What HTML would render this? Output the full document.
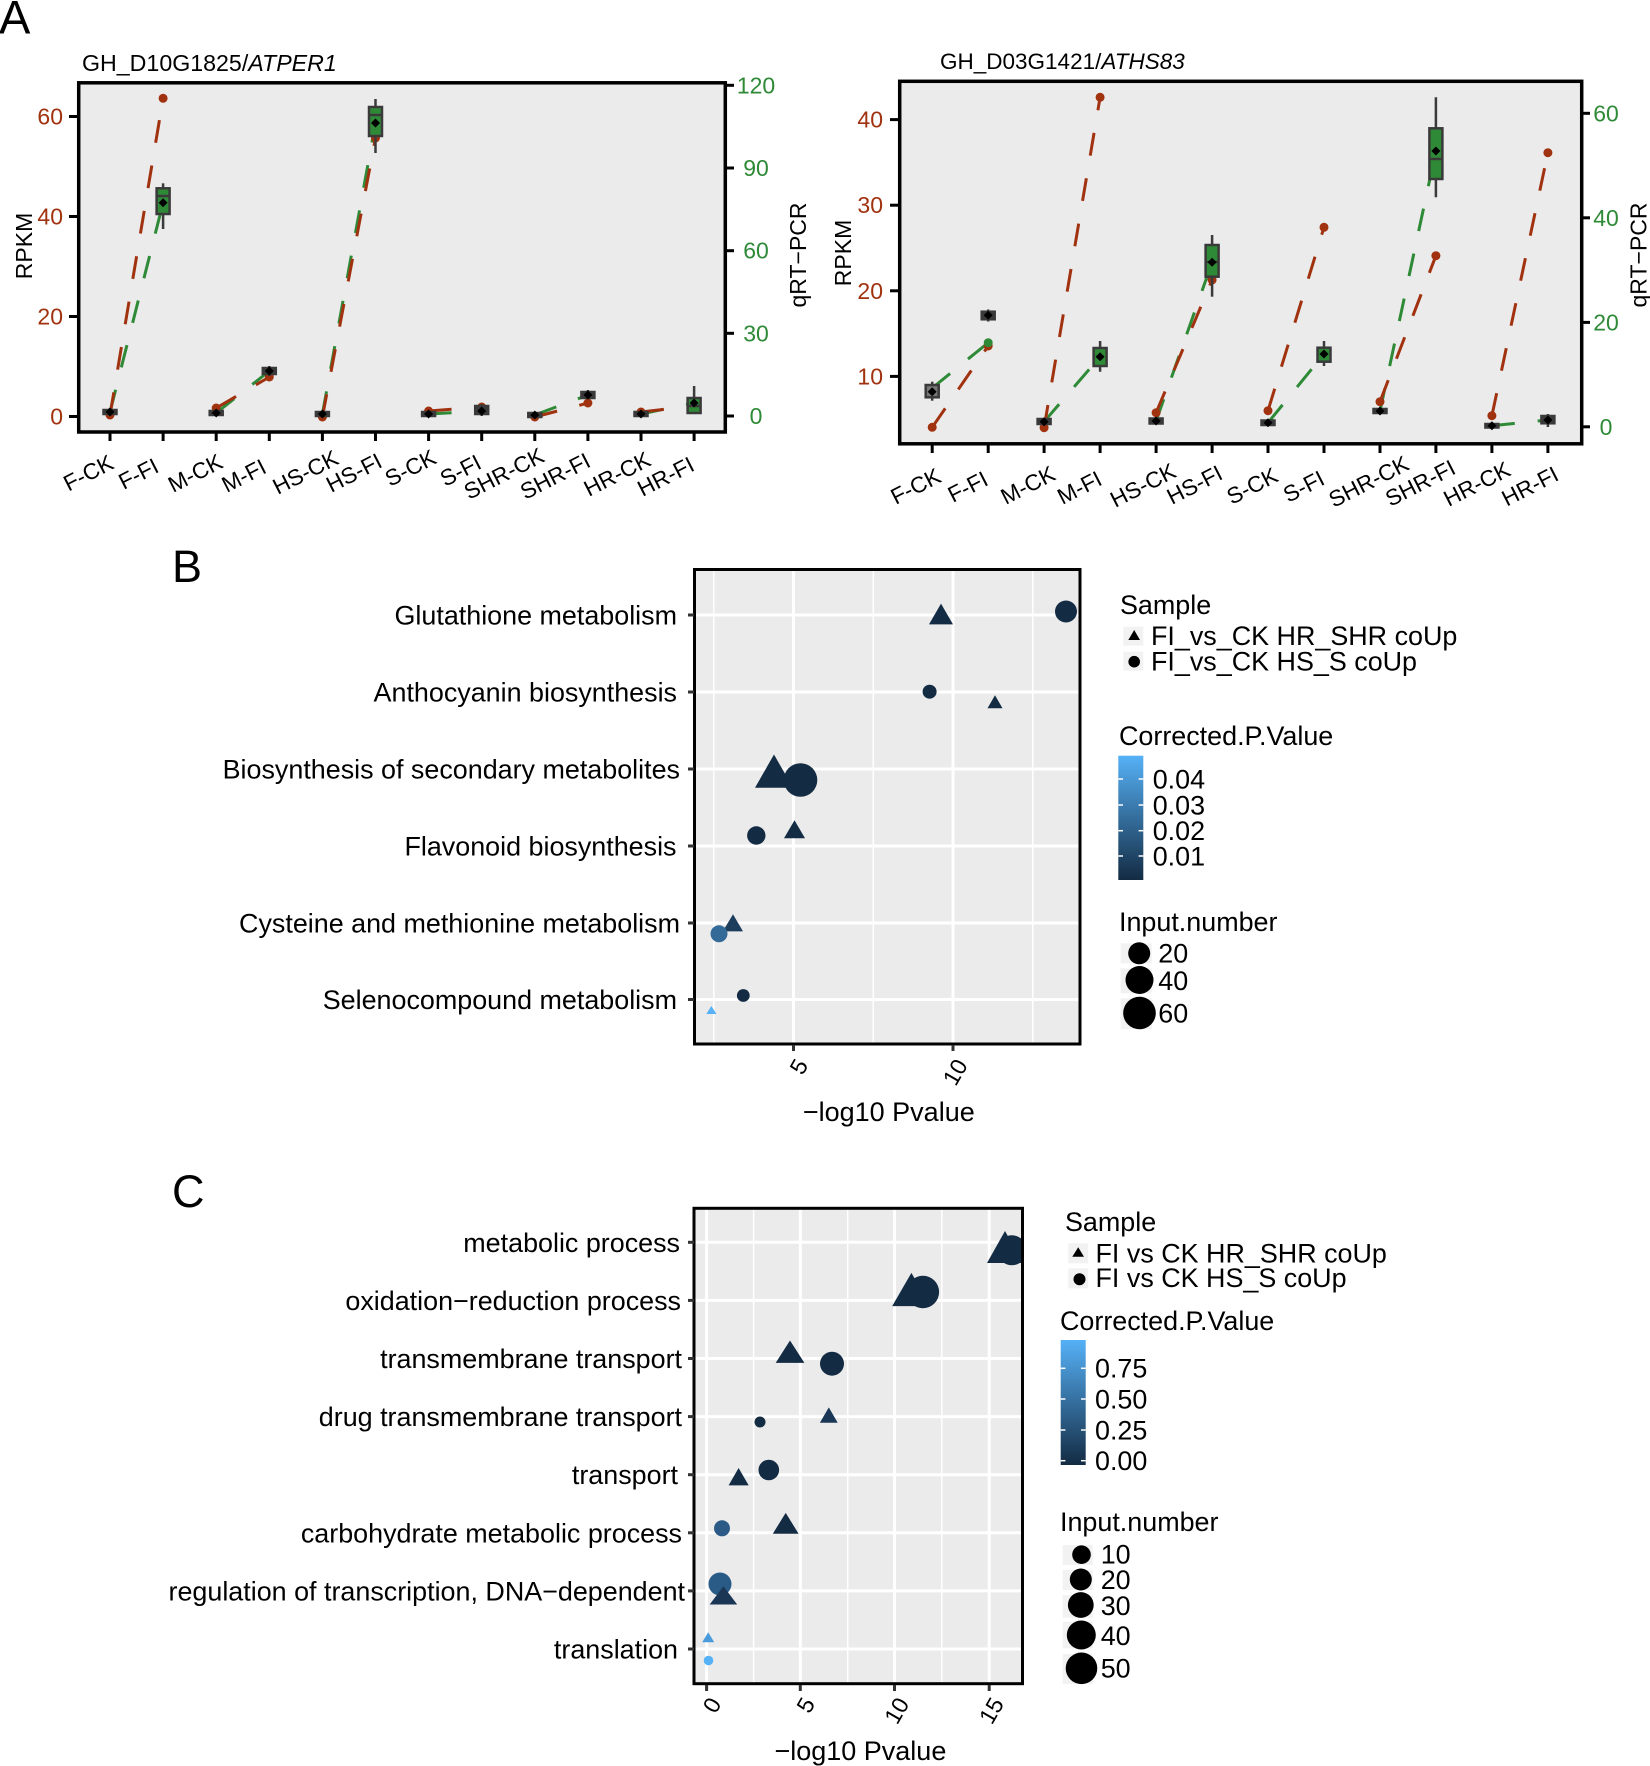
<!DOCTYPE html>
<html><head><meta charset="utf-8"><style>html,body{margin:0;padding:0;background:#fff}svg{display:block}</style></head>
<body>
<svg width="1650" height="1766" viewBox="0 0 1650 1766" xmlns="http://www.w3.org/2000/svg" font-family="'Liberation Sans', Arial, sans-serif">
<defs>
<linearGradient id="gB" x1="0" y1="0" x2="0" y2="1"><stop offset="0" stop-color="#56B1F7"/><stop offset="1" stop-color="#132B43"/></linearGradient>
<linearGradient id="gC" x1="0" y1="0" x2="0" y2="1"><stop offset="0" stop-color="#56B1F7"/><stop offset="1" stop-color="#132B43"/></linearGradient>
<clipPath id="cpB"><rect x="694.5" y="569.5" width="385.5" height="474.5"/></clipPath>
<clipPath id="cpC"><rect x="694" y="1208.3" width="328.5" height="475.4"/></clipPath>
</defs>
<rect width="1650" height="1766" fill="#fff"/>

<!-- ================= PANEL A ================= -->
<text x="-1" y="33.5" font-size="47">A</text>

<!-- Left plot -->
<text x="82" y="71" font-size="23.2">GH_D10G1825/<tspan font-style="italic">ATPER1</tspan></text>
<rect x="78.7" y="82.8" width="646.6" height="349.2" fill="#EBEBEB"/>
<g fill="none" stroke-width="3" stroke-dasharray="23 23">
<g stroke="#2F8A37">
<path d="M110,412 L163.1,202.7"/><path d="M216.2,413 L269.3,371"/><path d="M322.4,414 L375.5,123"/>
<path d="M428.6,414 L481.7,411"/><path d="M534.8,415 L587.9,395"/><path d="M641,414 L694.1,403"/>
</g>
<g stroke="#A1320F">
<path d="M110,415 L163.1,98.3"/><path d="M216.2,408 L269.3,377"/><path d="M322.4,417 L375.5,138"/>
<path d="M428.6,411 L481.7,407"/><path d="M534.8,417 L587.9,403"/><path d="M641,412 L694.1,406"/>
</g>
</g>
<g fill="#A1320F">
<circle cx="110" cy="415" r="4.5"/><circle cx="163.1" cy="98.3" r="4.5"/><circle cx="216.2" cy="408" r="4.5"/><circle cx="269.3" cy="377" r="4.5"/>
<circle cx="322.4" cy="417" r="4.5"/><circle cx="375.5" cy="138" r="4.5"/><circle cx="428.6" cy="411" r="4.5"/><circle cx="481.7" cy="407" r="4.5"/>
<circle cx="534.8" cy="417" r="4.5"/><circle cx="587.9" cy="403" r="4.5"/><circle cx="641" cy="412" r="4.5"/><circle cx="694.1" cy="406" r="4.5"/>
</g>
<g stroke="#3A3A3A" stroke-width="2.5">
<line x1="110" y1="408" x2="110" y2="416"/><rect x="103.5" y="410" width="13" height="4" fill="#3A3A3A"/>
<line x1="163.1" y1="183.3" x2="163.1" y2="229"/><rect x="156.6" y="188.3" width="13" height="25.7" fill="#2F8A37"/><line x1="156.6" y1="196" x2="169.6" y2="196"/>
<rect x="209.7" y="411" width="13" height="4" fill="#3A3A3A"/>
<line x1="269.3" y1="366" x2="269.3" y2="376"/><rect x="262.8" y="368" width="13" height="6" fill="#3A3A3A"/>
<rect x="315.9" y="412" width="13" height="4" fill="#3A3A3A"/>
<line x1="375.5" y1="99" x2="375.5" y2="153"/><rect x="369" y="107" width="13" height="29" fill="#2F8A37"/><line x1="369" y1="115" x2="382" y2="115"/>
<rect x="422.1" y="412" width="13" height="4" fill="#3A3A3A"/>
<line x1="481.7" y1="404" x2="481.7" y2="416"/><rect x="475.2" y="406" width="13" height="8" fill="#3A3A3A"/>
<rect x="528.3" y="413" width="13" height="4" fill="#3A3A3A"/>
<line x1="587.9" y1="390" x2="587.9" y2="399"/><rect x="581.4" y="392" width="13" height="6" fill="#3A3A3A"/>
<rect x="634.5" y="412" width="13" height="4" fill="#3A3A3A"/>
<line x1="694.1" y1="386" x2="694.1" y2="413"/><rect x="687.6" y="398" width="13" height="15" fill="#2F8A37"/><line x1="687.6" y1="406" x2="700.6" y2="406"/>
</g>
<g fill="#000">
<polygon points="110,407.5 114.5,412 110,416.5 105.5,412"/>
<polygon points="163.1,198.2 167.6,202.7 163.1,207.2 158.6,202.7"/>
<polygon points="216.2,408.5 220.7,413 216.2,417.5 211.7,413"/>
<polygon points="269.3,366.5 273.8,371 269.3,375.5 264.8,371"/>
<polygon points="322.4,409.5 326.9,414 322.4,418.5 317.9,414"/>
<polygon points="375.5,118.5 380,123 375.5,127.5 371,123"/>
<polygon points="428.6,409.5 433.1,414 428.6,418.5 424.1,414"/>
<polygon points="481.7,406.5 486.2,411 481.7,415.5 477.2,411"/>
<polygon points="534.8,410.5 539.3,415 534.8,419.5 530.3,415"/>
<polygon points="587.9,390.5 592.4,395 587.9,399.5 583.4,395"/>
<polygon points="641,409.5 645.5,414 641,418.5 636.5,414"/>
<polygon points="694.1,398.5 698.6,403 694.1,407.5 689.6,403"/>
</g>
<rect x="78.7" y="82.8" width="646.6" height="349.2" fill="none" stroke="#000" stroke-width="3.5"/>
<g stroke="#000" stroke-width="3">
<line x1="69" y1="416.5" x2="78" y2="416.5"/><line x1="69" y1="316.5" x2="78" y2="316.5"/><line x1="69" y1="216.5" x2="78" y2="216.5"/><line x1="69" y1="116.5" x2="78" y2="116.5"/>
<line x1="726" y1="416" x2="734" y2="416"/><line x1="726" y1="333.3" x2="734" y2="333.3"/><line x1="726" y1="250.7" x2="734" y2="250.7"/><line x1="726" y1="168" x2="734" y2="168"/><line x1="726" y1="85.3" x2="734" y2="85.3"/>
<line x1="110" y1="433" x2="110" y2="441"/><line x1="163.1" y1="433" x2="163.1" y2="441"/><line x1="216.2" y1="433" x2="216.2" y2="441"/><line x1="269.3" y1="433" x2="269.3" y2="441"/>
<line x1="322.4" y1="433" x2="322.4" y2="441"/><line x1="375.5" y1="433" x2="375.5" y2="441"/><line x1="428.6" y1="433" x2="428.6" y2="441"/><line x1="481.7" y1="433" x2="481.7" y2="441"/>
<line x1="534.8" y1="433" x2="534.8" y2="441"/><line x1="587.9" y1="433" x2="587.9" y2="441"/><line x1="641" y1="433" x2="641" y2="441"/><line x1="694.1" y1="433" x2="694.1" y2="441"/>
</g>
<g font-size="23" fill="#A1320F" text-anchor="end">
<text x="63" y="424.5">0</text><text x="63" y="324.5">20</text><text x="63" y="224.5">40</text><text x="63" y="124.5">60</text>
</g>
<g font-size="23" fill="#2F8A37" text-anchor="middle">
<text x="756" y="424">0</text><text x="756" y="341.3">30</text><text x="756" y="258.7">60</text><text x="756" y="176">90</text><text x="756" y="93.3">120</text>
</g>
<g font-size="22.5">
<text transform="translate(68.5,491.7) rotate(-27)">F-CK</text>
<text transform="translate(123.6,490) rotate(-27)">F-FI</text>
<text transform="translate(173.1,493) rotate(-27)">M-CK</text>
<text transform="translate(226.7,493) rotate(-27)">M-FI</text>
<text transform="translate(277.7,495) rotate(-27)">HS-CK</text>
<text transform="translate(331.3,493) rotate(-27)">HS-FI</text>
<text transform="translate(390,487) rotate(-27)">S-CK</text>
<text transform="translate(445.1,487) rotate(-27)">S-FI</text>
<text transform="translate(469,500) rotate(-27)">SHR-CK</text>
<text transform="translate(525.2,500) rotate(-27)">SHR-FI</text>
<text transform="translate(588.9,497) rotate(-27)">HR-CK</text>
<text transform="translate(642.5,497) rotate(-27)">HR-FI</text>
</g>
<text transform="translate(32,246) rotate(-90)" text-anchor="middle" font-size="23">RPKM</text>
<text transform="translate(806,255) rotate(-90)" text-anchor="middle" font-size="23">qRT−PCR</text>

<!-- Right plot -->
<text x="940" y="69" font-size="22.5">GH_D03G1421/<tspan font-style="italic">ATHS83</tspan></text>
<rect x="899.7" y="81.3" width="682" height="362.5" fill="#EBEBEB"/>
<g fill="none" stroke-width="3" stroke-dasharray="23 23">
<g stroke="#2F8A37">
<path d="M932.2,388 L988.2,342.7"/><path d="M1044.1,421.7 L1100.1,356.7"/><path d="M1156.1,421 L1212.1,262.3"/>
<path d="M1268,422.7 L1324,354"/><path d="M1380,411 L1435.9,151"/><path d="M1491.9,425.7 L1547.9,420"/>
</g>
<g stroke="#A1320F">
<path d="M932.2,427.3 L988.2,346"/><path d="M1044.1,427.7 L1100.1,97.3"/><path d="M1156.1,412.7 L1212.1,280"/>
<path d="M1268,410.7 L1324,227.3"/><path d="M1380,401.7 L1435.9,255.7"/><path d="M1491.9,415.7 L1547.9,152.7"/>
</g>
</g>
<g fill="#A1320F">
<circle cx="932.2" cy="427.3" r="4.5"/><circle cx="988.2" cy="346" r="4.5"/><circle cx="1044.1" cy="427.7" r="4.5"/><circle cx="1100.1" cy="97.3" r="4.5"/>
<circle cx="1156.1" cy="412.7" r="4.5"/><circle cx="1212.1" cy="280" r="4.5"/><circle cx="1268" cy="410.7" r="4.5"/><circle cx="1324" cy="227.3" r="4.5"/>
<circle cx="1380" cy="401.7" r="4.5"/><circle cx="1435.9" cy="255.7" r="4.5"/><circle cx="1491.9" cy="415.7" r="4.5"/><circle cx="1547.9" cy="152.7" r="4.5"/>
</g>
<circle cx="988.2" cy="342.7" r="4.5" fill="#2F8A37"/>
<g stroke="#3A3A3A" stroke-width="2.5">
<line x1="932.2" y1="381.7" x2="932.2" y2="400.7"/><rect x="925.7" y="385" width="13" height="12.3" fill="#777"/>
<line x1="988.2" y1="309.5" x2="988.2" y2="321.5"/><rect x="981.7" y="311.7" width="13" height="7.6" fill="#3A3A3A"/>
<rect x="1037.6" y="419" width="13" height="5" fill="#3A3A3A"/>
<line x1="1100.1" y1="341" x2="1100.1" y2="371.7"/><rect x="1093.6" y="348" width="13" height="18" fill="#2F8A37"/>
<rect x="1149.6" y="418.5" width="13" height="5" fill="#3A3A3A"/>
<line x1="1212.1" y1="235" x2="1212.1" y2="296.7"/><rect x="1205.6" y="245" width="13" height="31.7" fill="#2F8A37"/><line x1="1205.6" y1="262" x2="1218.6" y2="262"/>
<rect x="1261.5" y="420.5" width="13" height="4.5" fill="#3A3A3A"/>
<line x1="1324" y1="341" x2="1324" y2="366"/><rect x="1317.5" y="347.7" width="13" height="14" fill="#2F8A37"/>
<rect x="1373.5" y="409" width="13" height="4" fill="#3A3A3A"/>
<line x1="1435.9" y1="97.3" x2="1435.9" y2="197.3"/><rect x="1429.4" y="128.3" width="13" height="50.7" fill="#2F8A37"/><line x1="1429.4" y1="159" x2="1442.4" y2="159"/>
<rect x="1485.4" y="424" width="13" height="3.5" fill="#3A3A3A"/>
<line x1="1547.9" y1="414" x2="1547.9" y2="427"/><rect x="1541.4" y="416" width="13" height="7.3" fill="#3A3A3A"/>
</g>
<g fill="#000">
<polygon points="932.2,387.2 936.7,391.7 932.2,396.2 927.7,391.7"/>
<polygon points="988.2,310.8 992.7,315.3 988.2,319.8 983.7,315.3"/>
<polygon points="1044.1,417.2 1048.6,421.7 1044.1,426.2 1039.6,421.7"/>
<polygon points="1100.1,352.2 1104.6,356.7 1100.1,361.2 1095.6,356.7"/>
<polygon points="1156.1,416.5 1160.6,421 1156.1,425.5 1151.6,421"/>
<polygon points="1212.1,257.8 1216.6,262.3 1212.1,266.8 1207.6,262.3"/>
<polygon points="1268,418.2 1272.5,422.7 1268,427.2 1263.5,422.7"/>
<polygon points="1324,349.5 1328.5,354 1324,358.5 1319.5,354"/>
<polygon points="1380,406.5 1384.5,411 1380,415.5 1375.5,411"/>
<polygon points="1435.9,146.5 1440.4,151 1435.9,155.5 1431.4,151"/>
<polygon points="1491.9,421.2 1496.4,425.7 1491.9,430.2 1487.4,425.7"/>
<polygon points="1547.9,415.5 1552.4,420 1547.9,424.5 1543.4,420"/>
</g>
<rect x="899.7" y="81.3" width="682" height="362.5" fill="none" stroke="#000" stroke-width="3.5"/>
<g stroke="#000" stroke-width="3">
<line x1="890" y1="376.4" x2="899" y2="376.4"/><line x1="890" y1="290.8" x2="899" y2="290.8"/><line x1="890" y1="205.2" x2="899" y2="205.2"/><line x1="890" y1="119.6" x2="899" y2="119.6"/>
<line x1="1582" y1="426.8" x2="1590" y2="426.8"/><line x1="1582" y1="322.4" x2="1590" y2="322.4"/><line x1="1582" y1="217.8" x2="1590" y2="217.8"/><line x1="1582" y1="113.3" x2="1590" y2="113.3"/>
<line x1="932.2" y1="445" x2="932.2" y2="453"/><line x1="988.2" y1="445" x2="988.2" y2="453"/><line x1="1044.1" y1="445" x2="1044.1" y2="453"/><line x1="1100.1" y1="445" x2="1100.1" y2="453"/>
<line x1="1156.1" y1="445" x2="1156.1" y2="453"/><line x1="1212.1" y1="445" x2="1212.1" y2="453"/><line x1="1268" y1="445" x2="1268" y2="453"/><line x1="1324" y1="445" x2="1324" y2="453"/>
<line x1="1380" y1="445" x2="1380" y2="453"/><line x1="1435.9" y1="445" x2="1435.9" y2="453"/><line x1="1491.9" y1="445" x2="1491.9" y2="453"/><line x1="1547.9" y1="445" x2="1547.9" y2="453"/>
</g>
<g font-size="23" fill="#A1320F" text-anchor="end">
<text x="883" y="384.4">10</text><text x="883" y="298.8">20</text><text x="883" y="213.2">30</text><text x="883" y="127.6">40</text>
</g>
<g font-size="23" fill="#2F8A37" text-anchor="middle">
<text x="1606" y="434.8">0</text><text x="1606" y="330.4">20</text><text x="1606" y="225.8">40</text><text x="1606" y="121.3">60</text>
</g>
<g font-size="22.5">
<text transform="translate(895.8,505) rotate(-27)">F-CK</text>
<text transform="translate(952.9,503) rotate(-27)">F-FI</text>
<text transform="translate(1005.8,505) rotate(-27)">M-CK</text>
<text transform="translate(1062.4,505) rotate(-27)">M-FI</text>
<text transform="translate(1115.3,508) rotate(-27)">HS-CK</text>
<text transform="translate(1171.9,505) rotate(-27)">HS-FI</text>
<text transform="translate(1231.7,505) rotate(-27)">S-CK</text>
<text transform="translate(1288.3,503) rotate(-27)">S-FI</text>
<text transform="translate(1333.8,508) rotate(-27)">SHR-CK</text>
<text transform="translate(1390.4,507) rotate(-27)">SHR-FI</text>
<text transform="translate(1448.6,507) rotate(-27)">HR-CK</text>
<text transform="translate(1506.8,506.7) rotate(-27)">HR-FI</text>
</g>
<text transform="translate(851,253) rotate(-90)" text-anchor="middle" font-size="23">RPKM</text>
<text transform="translate(1646.5,255) rotate(-90)" text-anchor="middle" font-size="23">qRT−PCR</text>

<!-- ================= PANEL B ================= -->
<text x="172" y="582" font-size="45">B</text>
<rect x="694.5" y="569.5" width="385.5" height="474.5" fill="#EBEBEB"/>
<g stroke="#fff" stroke-width="1.5">
<line x1="713.8" y1="569.5" x2="713.8" y2="1044"/><line x1="873.3" y1="569.5" x2="873.3" y2="1044"/><line x1="1032.8" y1="569.5" x2="1032.8" y2="1044"/>
</g>
<g stroke="#fff" stroke-width="3">
<line x1="793.5" y1="569.5" x2="793.5" y2="1044"/><line x1="953" y1="569.5" x2="953" y2="1044"/>
<line x1="694.5" y1="615" x2="1080" y2="615"/><line x1="694.5" y1="692" x2="1080" y2="692"/><line x1="694.5" y1="769" x2="1080" y2="769"/>
<line x1="694.5" y1="846" x2="1080" y2="846"/><line x1="694.5" y1="923" x2="1080" y2="923"/><line x1="694.5" y1="999.5" x2="1080" y2="999.5"/>
</g>
<g clip-path="url(#cpB)">
<polygon points="941,603.6 929,624.4 953,624.4" fill="#132B43"/>
<polygon points="995,695.2 987.5,708.2 1002.5,708.2" fill="#132B43"/>
<polygon points="774,754.5 755,787.8 793,787.8" fill="#132B43"/>
<polygon points="794.5,820.3 784,838.2 805,838.2" fill="#132B43"/>
<polygon points="733,914.2 722.8,931.4 743,931.4" fill="#1D3D5D"/>
<polygon points="711.3,1006 706.3,1014 716.5,1014" fill="#56B1F7"/>
<circle cx="1066" cy="611.5" r="11" fill="#132B43"/>
<circle cx="929.6" cy="691.7" r="7" fill="#132B43"/>
<circle cx="800.5" cy="780" r="16.8" fill="#132B43"/>
<circle cx="756.3" cy="835.5" r="9.2" fill="#132B43"/>
<circle cx="719" cy="933.8" r="8.5" fill="#336A98"/>
<circle cx="743.3" cy="995.5" r="6.4" fill="#132B43"/>
</g>
<rect x="694.5" y="569.5" width="385.5" height="474.5" fill="none" stroke="#000" stroke-width="3"/>
<g stroke="#333" stroke-width="3">
<line x1="688" y1="615" x2="694" y2="615"/><line x1="688" y1="692" x2="694" y2="692"/><line x1="688" y1="769" x2="694" y2="769"/>
<line x1="688" y1="846" x2="694" y2="846"/><line x1="688" y1="923" x2="694" y2="923"/><line x1="688" y1="999.5" x2="694" y2="999.5"/>
<line x1="793.5" y1="1045" x2="793.5" y2="1051"/><line x1="953" y1="1045" x2="953" y2="1051"/>
</g>
<g font-size="26.9" text-anchor="end">
<text x="677" y="624.5">Glutathione metabolism</text>
<text x="677" y="701.5">Anthocyanin biosynthesis</text>
<text x="680" y="778.5">Biosynthesis of secondary metabolites</text>
<text x="676.5" y="855.5">Flavonoid biosynthesis</text>
<text x="680" y="932.5">Cysteine and methionine metabolism</text>
<text x="677" y="1009">Selenocompound metabolism</text>
</g>
<g font-size="23" text-anchor="end" dominant-baseline="central">
<text transform="translate(802,1061) rotate(-60)">5</text>
<text transform="translate(961.5,1061) rotate(-60)">10</text>
</g>
<text x="888.8" y="1121" font-size="27" text-anchor="middle">−log10 Pvalue</text>

<!-- Legend B -->
<g font-size="26.9">
<text x="1120" y="614">Sample</text>
<rect x="1123.3" y="626.7" width="20" height="19" fill="#F2F2F2"/>
<rect x="1123.3" y="651.7" width="20" height="19" fill="#F2F2F2"/>
<polygon points="1134.2,630 1128.3,640 1140,640" fill="#000"/>
<circle cx="1134.2" cy="661.7" r="5.8" fill="#000"/>
<text x="1151" y="645">FI_vs_CK HR_SHR coUp</text>
<text x="1151" y="670.5">FI_vs_CK HS_S coUp</text>
<text x="1119" y="745">Corrected.P.Value</text>
<rect x="1118.3" y="755.7" width="25" height="124.3" fill="url(#gB)"/>
<g stroke="#fff" stroke-width="1.5">
<line x1="1118.3" y1="779" x2="1123" y2="779"/><line x1="1138.6" y1="779" x2="1143.3" y2="779"/>
<line x1="1118.3" y1="805" x2="1123" y2="805"/><line x1="1138.6" y1="805" x2="1143.3" y2="805"/>
<line x1="1118.3" y1="830.7" x2="1123" y2="830.7"/><line x1="1138.6" y1="830.7" x2="1143.3" y2="830.7"/>
<line x1="1118.3" y1="856" x2="1123" y2="856"/><line x1="1138.6" y1="856" x2="1143.3" y2="856"/>
</g>
<text x="1152.7" y="788.3">0.04</text>
<text x="1152.7" y="814.3">0.03</text>
<text x="1152.7" y="840">0.02</text>
<text x="1152.7" y="865.3">0.01</text>
<text x="1119" y="931">Input.number</text>
<rect x="1120.7" y="943.3" width="31" height="20" fill="#F2F2F2"/>
<rect x="1120.7" y="968.3" width="31" height="25" fill="#F2F2F2"/>
<rect x="1120.7" y="998.3" width="31" height="31" fill="#F2F2F2"/>
<circle cx="1139.2" cy="953.3" r="11" fill="#000"/>
<circle cx="1139.5" cy="980" r="14" fill="#000"/>
<circle cx="1139.5" cy="1013" r="16.3" fill="#000"/>
<text x="1158.3" y="962.5">20</text>
<text x="1158.3" y="990">40</text>
<text x="1158.3" y="1022.5">60</text>
</g>

<!-- ================= PANEL C ================= -->
<text x="172" y="1207" font-size="45">C</text>
<rect x="694" y="1208.3" width="328.5" height="475.4" fill="#EBEBEB"/>
<g stroke="#fff" stroke-width="1.5">
<line x1="753.6" y1="1208.3" x2="753.6" y2="1683.7"/><line x1="847.7" y1="1208.3" x2="847.7" y2="1683.7"/><line x1="941.8" y1="1208.3" x2="941.8" y2="1683.7"/>
</g>
<g stroke="#fff" stroke-width="3">
<line x1="706.6" y1="1208.3" x2="706.6" y2="1683.7"/><line x1="800.3" y1="1208.3" x2="800.3" y2="1683.7"/><line x1="894.5" y1="1208.3" x2="894.5" y2="1683.7"/><line x1="989.2" y1="1208.3" x2="989.2" y2="1683.7"/>
<line x1="694" y1="1242.3" x2="1022.5" y2="1242.3"/><line x1="694" y1="1300.4" x2="1022.5" y2="1300.4"/><line x1="694" y1="1358.5" x2="1022.5" y2="1358.5"/><line x1="694" y1="1416.6" x2="1022.5" y2="1416.6"/>
<line x1="694" y1="1474.7" x2="1022.5" y2="1474.7"/><line x1="694" y1="1532.8" x2="1022.5" y2="1532.8"/><line x1="694" y1="1590.9" x2="1022.5" y2="1590.9"/><line x1="694" y1="1649" x2="1022.5" y2="1649"/>
</g>
<g clip-path="url(#cpC)">
<polygon points="1005,1231 987,1263 1023,1263" fill="#132B43"/>
<polygon points="911.4,1272.9 892.2,1306.1 930.6,1306.1" fill="#132B43"/>
<polygon points="790,1340.5 775.7,1362.9 804.4,1362.9" fill="#132B43"/>
<polygon points="828.8,1407.4 819.9,1422.8 837.7,1422.8" fill="#1A3756"/>
<polygon points="738.6,1468 728.6,1485.4 748.7,1485.4" fill="#132B43"/>
<polygon points="785.7,1512.9 772.8,1533.7 798.6,1533.7" fill="#132B43"/>
<polygon points="708.2,1632.3 702.2,1642.3 714.2,1642.3" fill="#4A9BDB"/>
<circle cx="1011.9" cy="1250.3" r="15" fill="#132B43"/>
<circle cx="922.9" cy="1292" r="16.2" fill="#132B43"/>
<circle cx="832" cy="1363.7" r="12" fill="#132B43"/>
<circle cx="760" cy="1422" r="5.5" fill="#132B43"/>
<circle cx="768.8" cy="1470" r="10.3" fill="#132B43"/>
<circle cx="722" cy="1528.3" r="8" fill="#2B5A86"/>
<circle cx="720" cy="1584" r="11.5" fill="#2A5A86"/>
<polygon points="723.4,1586.3 709.7,1604.5 737.2,1604.5" fill="#1A3654"/>
<circle cx="708.5" cy="1660.5" r="4.8" fill="#56B1F7"/>
</g>
<rect x="694" y="1208.3" width="328.5" height="475.4" fill="none" stroke="#000" stroke-width="3"/>
<g stroke="#333" stroke-width="3">
<line x1="688" y1="1242.3" x2="694" y2="1242.3"/><line x1="688" y1="1300.4" x2="694" y2="1300.4"/><line x1="688" y1="1358.5" x2="694" y2="1358.5"/><line x1="688" y1="1416.6" x2="694" y2="1416.6"/>
<line x1="688" y1="1474.7" x2="694" y2="1474.7"/><line x1="688" y1="1532.8" x2="694" y2="1532.8"/><line x1="688" y1="1590.9" x2="694" y2="1590.9"/><line x1="688" y1="1649" x2="694" y2="1649"/>
<line x1="706.6" y1="1685" x2="706.6" y2="1691"/><line x1="800.3" y1="1685" x2="800.3" y2="1691"/><line x1="894.5" y1="1685" x2="894.5" y2="1691"/><line x1="989.2" y1="1685" x2="989.2" y2="1691"/>
</g>
<g font-size="26.9" text-anchor="end">
<text x="680" y="1251.8">metabolic process</text>
<text x="681" y="1309.9">oxidation−reduction process</text>
<text x="682" y="1368">transmembrane transport</text>
<text x="682" y="1426.1">drug transmembrane transport</text>
<text x="678" y="1484.2">transport</text>
<text x="682" y="1542.3">carbohydrate metabolic process</text>
<text x="685" y="1600.4">regulation of transcription, DNA−dependent</text>
<text x="678" y="1658.5">translation</text>
</g>
<g font-size="23" text-anchor="end" dominant-baseline="central">
<text transform="translate(715.1,1699.5) rotate(-60)">0</text>
<text transform="translate(808.8,1699.5) rotate(-60)">5</text>
<text transform="translate(903,1699.5) rotate(-60)">10</text>
<text transform="translate(997.7,1699.5) rotate(-60)">15</text>
</g>
<text x="860.4" y="1760" font-size="27" text-anchor="middle">−log10 Pvalue</text>

<!-- Legend C -->
<g font-size="26.9">
<text x="1065" y="1231">Sample</text>
<rect x="1068.3" y="1243.3" width="20" height="20" fill="#F2F2F2"/>
<rect x="1068.3" y="1268.3" width="20" height="20" fill="#F2F2F2"/>
<polygon points="1078.2,1247.3 1072.3,1256.7 1084,1256.7" fill="#000"/>
<circle cx="1079.5" cy="1279.2" r="6" fill="#000"/>
<text x="1095.5" y="1262.5">FI vs CK HR_SHR coUp</text>
<text x="1095.5" y="1287">FI vs CK HS_S coUp</text>
<text x="1060" y="1330">Corrected.P.Value</text>
<rect x="1060.7" y="1340" width="25" height="125" fill="url(#gC)"/>
<g stroke="#fff" stroke-width="1.5">
<line x1="1060.7" y1="1368.3" x2="1065.4" y2="1368.3"/><line x1="1081" y1="1368.3" x2="1085.7" y2="1368.3"/>
<line x1="1060.7" y1="1399" x2="1065.4" y2="1399"/><line x1="1081" y1="1399" x2="1085.7" y2="1399"/>
<line x1="1060.7" y1="1430" x2="1065.4" y2="1430"/><line x1="1081" y1="1430" x2="1085.7" y2="1430"/>
<line x1="1060.7" y1="1460.7" x2="1065.4" y2="1460.7"/><line x1="1081" y1="1460.7" x2="1085.7" y2="1460.7"/>
</g>
<text x="1095" y="1377.5">0.75</text>
<text x="1095" y="1408.3">0.50</text>
<text x="1095" y="1439.3">0.25</text>
<text x="1095" y="1470">0.00</text>
<text x="1060" y="1531">Input.number</text>
<rect x="1062.7" y="1545" width="30" height="20" fill="#F2F2F2"/>
<rect x="1062.7" y="1570" width="30" height="20" fill="#F2F2F2"/>
<rect x="1062.7" y="1595" width="30" height="22.7" fill="#F2F2F2"/>
<rect x="1062.7" y="1621.7" width="30" height="26.6" fill="#F2F2F2"/>
<rect x="1062.7" y="1654" width="30" height="30" fill="#F2F2F2"/>
<circle cx="1081.5" cy="1554.7" r="9.3" fill="#000"/>
<circle cx="1080.8" cy="1579.5" r="11" fill="#000"/>
<circle cx="1080.8" cy="1605" r="12.9" fill="#000"/>
<circle cx="1081.3" cy="1635" r="14.5" fill="#000"/>
<circle cx="1081.5" cy="1668.3" r="15.8" fill="#000"/>
<text x="1100.7" y="1563.3">10</text>
<text x="1100.7" y="1589">20</text>
<text x="1100.7" y="1615">30</text>
<text x="1100.7" y="1645">40</text>
<text x="1100.7" y="1677.7">50</text>
</g>
</svg>
</body></html>
